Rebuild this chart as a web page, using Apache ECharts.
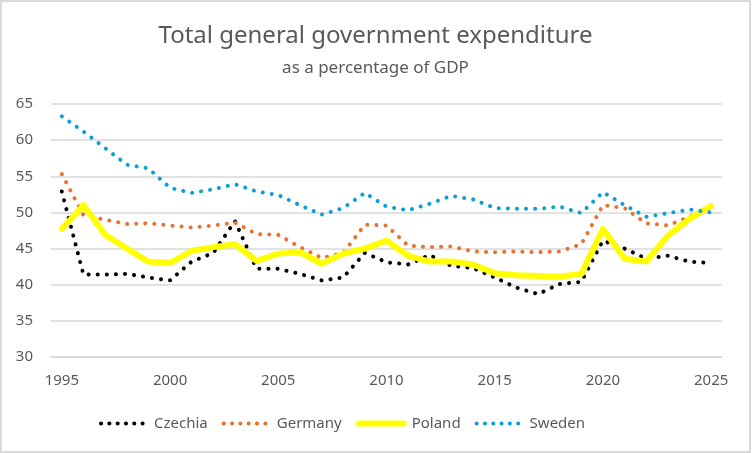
<!DOCTYPE html>
<html>
<head>
<meta charset="utf-8">
<script src="https://cdn.jsdelivr.net/npm/echarts@6/dist/echarts.min.js"></script>
<style>
  html, body { margin: 0; padding: 0; background: #fff; }
  #frame { position: absolute; left: 0; top: 0; width: 747px; height: 449px; border: 2px solid #d9d9d9; }
  #chart { width: 747px; height: 449px; }
</style>
</head>
<body>
<div id="frame"><div id="chart"></div></div>
<script>
const years = [];
for (let y = 1995; y <= 2025; y++) years.push(String(y));

const czechia = [52.9, 41.4, 41.4, 41.5, 41.0, 40.6, 43.2, 44.4, 48.8, 42.2, 42.2, 41.5, 40.6, 41.0, 44.4, 43.1,
  42.8, 44.1, 42.6, 42.3, 41.0, 39.6, 38.7, 40.1, 40.4, 46.1, 45.0, 43.6, 44.0, 43.2, 43.0];
const germany = [55.3, 49.6, 49.0, 48.4, 48.5, 48.2, 47.9, 48.2, 48.6, 47.0, 46.9, 45.2, 43.7, 44.4, 48.3, 48.2,
  45.4, 45.2, 45.3, 44.6, 44.5, 44.6, 44.5, 44.6, 45.6, 51.0, 50.6, 48.5, 48.2, 49.4, 50.8];
const poland = [47.7, 51.0, 46.9, 45.0, 43.2, 43.0, 44.7, 45.2, 45.6, 43.3, 44.3, 44.5, 42.9, 44.3, 45.0, 46.1,
  44.0, 43.2, 43.2, 42.8, 41.6, 41.3, 41.2, 41.1, 41.5, 47.7, 43.6, 43.2, 46.8, 49.1, 50.9];
const sweden = [63.3, 61.2, 58.9, 56.6, 56.1, 53.4, 52.7, 53.2, 53.9, 52.9, 52.4, 51.0, 49.7, 50.6, 52.7, 50.8,
  50.3, 51.2, 52.3, 51.8, 50.6, 50.5, 50.5, 50.8, 49.9, 52.8, 51.0, 49.4, 49.9, 50.4, 50.0];

const font = 'Noto Sans';
const grey = '#595959';

const dotted = (name, color, data) => ({
  name: name,
  type: 'line',
  data: data,
  symbol: 'none',
  smooth: false,
  lineStyle: { color: color, width: 4, type: [0.1, 9], cap: 'round' },
  itemStyle: { color: color }
});

const chart = echarts.init(document.getElementById('chart'), null, { renderer: 'canvas' });

chart.setOption({
  animation: false,
  backgroundColor: '#fff',
  title: {
    text: 'Total general government expenditure',
    subtext: 'as a percentage of GDP',
    left: 'center',
    top: 17,
    itemGap: 12,
    textStyle: { fontFamily: font, fontSize: 24, fontWeight: 'normal', color: grey },
    subtextStyle: { fontFamily: font, fontSize: 17, color: grey }
  },
  legend: {
    top: 409,
    left: 92,
    itemWidth: 45,
    itemHeight: 6,
    itemGap: 14,
    itemStyle: { opacity: 0 },
    lineStyle: { width: 4, type: [0.1, 8.2], cap: 'round' },
    textStyle: { fontFamily: font, fontSize: 15, color: grey, padding: [0, 0, 0, 3] },
    data: ['Czechia', 'Germany',
      { name: 'Poland', lineStyle: { width: 6, type: 'solid', cap: 'round' } }, 'Sweden']
  },
  grid: { left: 49, top: 102, width: 671, height: 253, containLabel: false },
  xAxis: {
    type: 'category',
    data: years,
    boundaryGap: true,
    axisLine: { lineStyle: { color: '#d9d9d9', width: 1.5 } },
    axisTick: { show: false },
    axisLabel: { interval: 4, margin: 16, fontFamily: font, fontSize: 15, color: grey }
  },
  yAxis: {
    type: 'value',
    min: 30,
    max: 65,
    interval: 5,
    axisLine: { show: false },
    axisTick: { show: false },
    axisLabel: { margin: 18, fontFamily: font, fontSize: 15, color: grey },
    splitLine: { lineStyle: { color: '#d9d9d9', width: 1.5 } }
  },
  series: [
    dotted('Czechia', '#000000', czechia),
    dotted('Germany', '#E97132', germany),
    {
      name: 'Poland',
      type: 'line',
      data: poland,
      symbol: 'none',
      lineStyle: { color: '#FFFF00', width: 6, cap: 'round', join: 'round' },
      itemStyle: { color: '#FFFF00' }
    },
    dotted('Sweden', '#0F9ED5', sweden)
  ]
});
</script>
</body>
</html>
